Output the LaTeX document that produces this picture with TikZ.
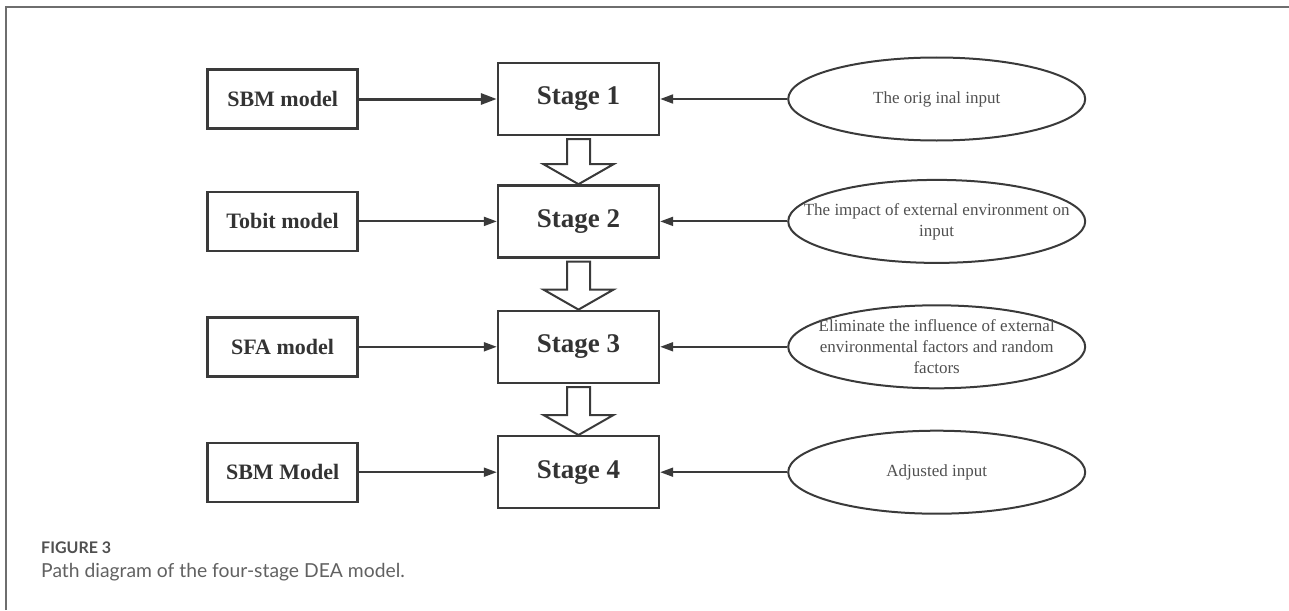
\documentclass[tikz,border=0pt]{standalone}
\usepackage{fontspec}
\setmainfont{Liberation Serif}
\newfontfamily\capfont{Lato}
\usepackage{tikz}
\usetikzlibrary{positioning, arrows.meta, shapes.geometric}
\definecolor{linegray}{HTML}{3A3A3A}
\definecolor{textgray}{HTML}{505050}
\definecolor{framegray}{HTML}{6E6E6E}

\begin{document}
\begin{tikzpicture}[x=1pt,y=-1pt,
  modelbox/.style={draw=linegray,line width=2.4pt,minimum width=150pt,minimum height=59pt,inner sep=0pt,
    text=black!80,font=\fontsize{22}{26}\selectfont\bfseries},
  stagebox/.style={draw=linegray,line width=2.4pt,minimum width=161pt,minimum height=72pt,inner sep=0pt,
    text=black!80,font=\fontsize{27}{32}\selectfont\bfseries},
  inputell/.style={ellipse,draw=linegray,line width=2pt,minimum width=297pt,minimum height=83pt,inner sep=0pt},
  elltext/.style={align=center,text=textgray,font=\fontsize{17}{21}\selectfont,inner sep=0pt},
  feed/.style={draw=linegray,line width=2pt,-{Triangle[length=13pt,width=9pt]}},
  flow/.style={draw=linegray,line width=2pt,fill=white,line join=miter}
]
\useasboundingbox (0,0) rectangle (1289,610);
\draw[framegray,line width=1.5pt] (6,610) -- (6,7) -- (1289,7);

% stages
\node[stagebox] (stage1) at (578.5,99) {Stage 1};
\node[stagebox,below=48pt of stage1] (stage2) {Stage 2};
\node[stagebox,below=51pt of stage2] (stage3) {Stage 3};
\node[stagebox,below=51pt of stage3] (stage4) {Stage 4};

% models
\node[modelbox,left=138pt of stage1] (sbm) {SBM model};
\node[modelbox,left=138pt of stage2] (tobit) {Tobit model};
\node[modelbox,left=138pt of stage3] (sfa) {SFA model};
\node[modelbox,left=138pt of stage4] (sbmadj) {SBM Model};

% inputs
\node[inputell,right=127pt of stage1,label={[elltext]center:The orig inal input}] (orig) {};
\node[inputell,right=127pt of stage2,label={[elltext]center:The impact of external environment on\\input}] (impact) {};
\node[inputell,right=127pt of stage3,label={[elltext]center:Eliminate the influence of external\\environmental factors and random\\factors}] (elim) {};
\node[inputell,right=127pt of stage4,label={[elltext]center:Adjusted input}] (adj) {};

\draw[feed,line width=3pt,-{Triangle[length=16pt,width=11pt]}] (sbm) -- (stage1);
\draw[feed] (tobit) -- (stage2);
\draw[feed] (sfa) -- (stage3);
\draw[feed] (sbmadj) -- (stage4);
\foreach \e/\s in {orig/stage1,impact/stage2,elim/stage3,adj/stage4}
  \draw[feed] (\e) -- (\s);

% block arrows between stages
\foreach \a/\b in {stage1/stage2,stage2/stage3,stage3/stage4}
  \draw[flow] (\b.north) -- ([shift={(-35,-20)}]\b.north) -- ([shift={(-11.5,-20)}]\b.north)
    -- ([shift={(-11.5,3)}]\a.south) -- ([shift={(11.5,3)}]\a.south)
    -- ([shift={(11.5,-20)}]\b.north) -- ([shift={(35,-20)}]\b.north) -- cycle;

\node[anchor=west,inner sep=0pt,text=textgray,font=\capfont\fontsize{16}{18}\selectfont\bfseries] (figno) at (41,548) {FIGURE 3};
\node[anchor=west,inner sep=0pt,text=textgray!90,font=\capfont\fontsize{19.3}{23}\selectfont] (caption) at (41,572) {Path diagram of the four-stage DEA model.};
\end{tikzpicture}
\end{document}
